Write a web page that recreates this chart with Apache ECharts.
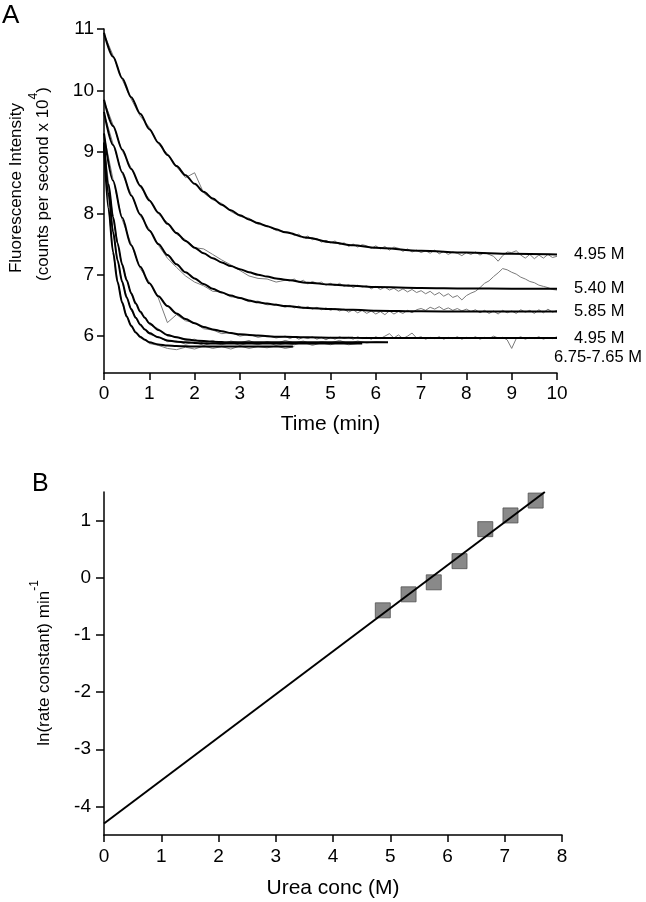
<!DOCTYPE html>
<html><head><meta charset="utf-8">
<script src="https://cdn.jsdelivr.net/npm/echarts@6/dist/echarts.min.js"></script>
<style>html,body{margin:0;padding:0;background:#fff}#c{width:646px;height:902px}</style>
</head><body><div id="c"></div>
<script>
// ---------- Panel A data ----------
const timeTicks = [0,1,2,3,4,5,6,7,8,9,10];
const intensityTicks = [6,7,8,9,10,11];
const traceLabels = ['4.95 M','5.40 M','5.85 M','4.95 M'];
const groupLabel = '6.75-7.65 M';

// raw (noisy) traces, slow ones
const tGray = [0,0.2,0.4,0.6,0.8,1,1.2,1.4,1.6,1.8,2,2.2,2.4,2.6,2.8,3,3.2,3.4,3.6,3.8,4,
4.1,4.2,4.3,4.4,4.5,4.6,4.7,4.8,4.9,5,
5.1,5.2,5.3,5.4,5.5,5.6,5.7,5.8,5.9,6,
6.1,6.2,6.3,6.4,6.5,6.6,6.7,6.8,6.9,7,
7.1,7.2,7.3,7.4,7.5,7.6,7.7,7.8,7.9,8,
8.1,8.2,8.3,8.4,8.5,8.6,8.7,8.8,8.9,9,
9.1,9.2,9.3,9.4,9.5,9.6,9.7,9.8,9.9,10];
const gray1 = [10.92,10.57,10.18,9.86,9.58,9.40,9.13,8.97,8.76,8.58,8.66,8.33,8.22,8.16,8.03,7.95,7.92,7.82,7.80,7.72,7.70,
7.69,7.64,7.66,7.60,7.63,7.57,7.59,7.53,7.56,7.52,
7.55,7.49,7.52,7.46,7.50,7.45,7.49,7.47,7.43,7.47,
7.42,7.46,7.40,7.45,7.43,7.38,7.42,7.37,7.40,7.36,
7.39,7.35,7.40,7.34,7.38,7.33,7.37,7.35,7.31,7.36,
7.33,7.37,7.32,7.36,7.33,7.30,7.22,7.31,7.37,7.36,
7.39,7.32,7.27,7.33,7.26,7.32,7.27,7.33,7.28,7.30];
const gray2 = [9.83,9.44,9.02,8.74,8.43,8.23,7.99,7.85,7.66,7.57,7.44,7.42,7.33,7.24,7.16,7.07,6.98,6.94,6.93,6.88,6.91,
6.90,6.93,6.88,6.91,6.85,6.89,6.86,6.88,6.83,6.86,
6.82,6.86,6.81,6.84,6.79,6.83,6.80,6.82,6.77,6.81,
6.76,6.80,6.75,6.78,6.73,6.77,6.72,6.76,6.71,6.74,
6.69,6.73,6.67,6.71,6.65,6.69,6.63,6.66,6.59,6.66,
6.70,6.73,6.79,6.86,6.90,6.97,7.03,7.10,7.08,7.04,
7.01,6.96,6.93,6.89,6.87,6.83,6.81,6.79,6.76,6.75];
const gray3 = [9.63,9.13,8.65,8.31,7.96,7.74,7.48,7.27,7.12,6.98,6.88,6.82,6.73,6.72,6.64,6.63,6.56,6.57,6.51,6.52,6.47,
6.50,6.46,6.49,6.45,6.48,6.44,6.47,6.43,6.46,6.42,
6.45,6.41,6.44,6.39,6.43,6.38,6.42,6.37,6.41,6.36,
6.40,6.35,6.41,6.36,6.40,6.37,6.42,6.38,6.43,6.45,
6.42,6.47,6.44,6.48,6.43,6.46,6.42,6.45,6.41,6.44,
6.40,6.43,6.38,6.42,6.37,6.41,6.36,6.42,6.38,6.41,
6.37,6.43,6.39,6.42,6.37,6.43,6.38,6.44,6.39,6.42];
const gray4 = [9.27,8.55,7.90,7.50,7.10,6.88,6.62,6.22,6.35,6.25,6.22,6.12,6.10,6.04,6.06,6.00,6.03,5.98,6.01,5.97,6.00,
5.96,5.99,5.95,5.98,5.96,5.99,5.95,5.98,5.94,5.98,
5.95,5.99,5.96,5.98,5.95,5.99,5.96,5.98,5.95,5.99,
5.96,6.00,6.04,5.97,6.02,5.96,6.00,6.05,5.97,5.99,
5.95,5.98,5.96,5.99,5.95,5.98,5.96,5.99,5.95,5.98,
5.96,5.99,5.95,5.98,5.96,6.00,5.97,5.98,5.94,5.80,
5.96,5.99,5.95,5.98,5.96,5.99,5.95,5.98,5.96,5.99];

// raw traces, fast ones (6.75, 7.20, 7.65 M)
const tFastGray = [0,0.1,0.2,0.3,0.4,0.5,0.6,0.7,0.8,0.9,1,1.2,1.4,1.6,1.8,2,2.2,2.4,2.6,2.8,3,3.2,3.4,3.6,3.8,4,4.2,4.4,4.6,4.8,5,5.2,5.4,5.6,5.8,6,6.2];
const gray5 = [9.13,8.49,7.92,7.53,7.15,6.93,6.68,6.55,6.38,6.32,6.19,
6.12,6.00,5.99,5.93,5.95,5.88,5.93,5.87,5.92,5.89,5.93,5.87,5.91,5.88,5.93,5.89,5.92,5.87,5.91,5.89,5.93,5.88,5.92,5.89,5.91,5.90];
const gray6 = [9.13,8.35,7.68,7.25,6.87,6.65,6.42,6.31,6.17,6.12,6.03,
5.99,5.91,5.92,5.87,5.90,5.85,5.89,5.86,5.90,5.85,5.89,5.86,5.90,5.85,5.88,5.86,5.90,5.85,5.89,5.86,5.90,5.86,5.88];
const gray7 = [9.08,8.10,7.35,6.90,6.53,6.34,6.15,6.08,5.97,5.95,5.88,
5.85,5.80,5.78,5.82,5.79,5.84,5.80,5.83,5.79,5.84,5.80,5.83,5.81,5.84,5.80,5.83];

// fitted curves
const tFitSlow = [0,0.2,0.4,0.6,0.8,1,1.2,1.4,1.6,1.8,2,2.2,2.4,2.6,2.8,3,3.2,3.4,3.6,3.8,4,4.5,5,5.5,6,7,8,9,10];
const fit1 = [10.94,10.55,10.20,9.89,9.62,9.37,9.15,8.95,8.77,8.62,8.48,8.35,8.24,8.14,8.05,7.97,7.90,7.84,7.79,7.74,7.69,7.60,7.53,7.48,7.44,7.39,7.36,7.34,7.33];
const fit2 = [9.85,9.42,9.04,8.72,8.45,8.21,8.01,7.83,7.68,7.55,7.44,7.35,7.27,7.20,7.14,7.09,7.04,7.00,6.97,6.94,6.92,6.87,6.84,6.82,6.80,6.785,6.777,6.772,6.77];
const fit3 = [9.65,9.11,8.67,8.29,7.98,7.72,7.50,7.32,7.17,7.04,6.94,6.85,6.77,6.71,6.66,6.62,6.58,6.55,6.53,6.51,6.49,6.46,6.44,6.43,6.415,6.405,6.40,6.40,6.40];
const fit4 = [9.30,8.53,7.93,7.48,7.13,6.86,6.65,6.49,6.37,6.28,6.21,6.15,6.11,6.08,6.05,6.03,6.02,6.01,6.00,5.99,5.99,5.98,5.975,5.972,5.97,5.97,5.97,5.97,5.97];
const tFit5 = [0,0.1,0.2,0.3,0.4,0.5,0.6,0.7,0.8,0.9,1,1.2,1.4,1.6,1.8,2,2.4,2.8,6.27];
const tFit6 = [0,0.1,0.2,0.3,0.4,0.5,0.6,0.7,0.8,0.9,1,1.2,1.4,1.6,1.8,2,2.4,2.8,5.7];
const tFit7 = [0,0.1,0.2,0.3,0.4,0.5,0.6,0.7,0.8,0.9,1,1.2,1.4,1.6,1.8,2,2.4,2.8,4.17];
const fit5 = [9.15,8.47,7.94,7.51,7.17,6.91,6.70,6.53,6.40,6.30,6.21,6.10,6.02,5.98,5.95,5.93,5.91,5.90,5.90];
const fit6 = [9.15,8.32,7.70,7.23,6.89,6.63,6.44,6.30,6.19,6.11,6.05,5.98,5.93,5.91,5.90,5.89,5.88,5.88,5.88];
const fit7 = [9.10,8.07,7.37,6.88,6.55,6.32,6.17,6.06,5.99,5.94,5.90,5.865,5.846,5.838,5.834,5.832,5.83,5.83,5.83];

// ---------- Panel B data ----------
const ureaTicks = [0,1,2,3,4,5,6,7,8];
const lnTicks = [-4,-3,-2,-1,0,1];
const ureaConc = [4.87,5.32,5.76,6.21,6.66,7.10,7.54];
const lnRate = [-0.57,-0.29,-0.08,0.29,0.85,1.09,1.35];
const fitLineX = [0,7.7];
const fitLineY = [-4.3,1.5];

// ---------- build ----------
const FONT = '"Liberation Sans", Arial, Helvetica, sans-serif';
const zip = (t, v) => v.map((y, i) => [t[i], y]);
const axisLineStyle = {color:'#000', width:1.5};
const TICK_FS = 19, NAME_FS = 21, TAG_FS = 16.5;

function grayLine(t, v){
  return {type:'line', xAxisIndex:0, yAxisIndex:0, data:zip(t,v), showSymbol:false, symbol:'none',
    lineStyle:{color:'#7a7a7a', width:1}, z:2, silent:true};
}
function fitLine(t, v, label){
  const s = {type:'line', xAxisIndex:0, yAxisIndex:0, data:zip(t,v), showSymbol:false, symbol:'none',
    smooth:0.3, smoothMonotone:'x', lineStyle:{color:'#000', width:2}, z:3, silent:true};
  if (label) s.endLabel = {show:true, formatter:label, distance:17, color:'#000', fontSize:TAG_FS, fontFamily:FONT};
  return s;
}

const chart = echarts.init(document.getElementById('c'), null, {renderer:'canvas'});
chart.setOption({
  animation:false,
  backgroundColor:'#fff',
  grid:[
    {left:104, top:29, width:453, height:344},
    {left:104, top:492, width:458, height:343}
  ],
  xAxis:[
    {type:'value', gridIndex:0, min:0, max:10, interval:1,
      axisLine:{onZero:false, lineStyle:axisLineStyle}, axisTick:{length:7, lineStyle:axisLineStyle},
      axisLabel:{color:'#000', fontSize:TICK_FS, fontFamily:FONT, margin:11, customValues:timeTicks},
      splitLine:{show:false},
      name:'Time (min)', nameLocation:'middle', nameGap:41,
      nameTextStyle:{color:'#000', fontSize:NAME_FS, fontFamily:FONT}},
    {type:'value', gridIndex:1, min:0, max:8, interval:1,
      axisLine:{onZero:false, lineStyle:axisLineStyle}, axisTick:{length:7, lineStyle:axisLineStyle},
      axisLabel:{color:'#000', fontSize:TICK_FS, fontFamily:FONT, margin:12, customValues:ureaTicks},
      splitLine:{show:false},
      name:'Urea conc (M)', nameLocation:'middle', nameGap:43,
      nameTextStyle:{color:'#000', fontSize:NAME_FS, fontFamily:FONT}}
  ],
  yAxis:[
    {type:'value', gridIndex:0, min:5.4, max:11,
      axisLine:{show:true, onZero:false, lineStyle:axisLineStyle},
      axisTick:{show:true, length:7, lineStyle:axisLineStyle, customValues:intensityTicks},
      axisLabel:{color:'#000', fontSize:TICK_FS, fontFamily:FONT, margin:10, customValues:intensityTicks},
      splitLine:{show:false}},
    {type:'value', gridIndex:1, min:-4.5, max:1.5,
      axisLine:{show:true, onZero:false, lineStyle:axisLineStyle},
      axisTick:{show:true, length:8, lineStyle:axisLineStyle, customValues:lnTicks},
      axisLabel:{color:'#000', fontSize:TICK_FS, fontFamily:FONT, margin:13, customValues:lnTicks},
      splitLine:{show:false}}
  ],
  graphic:[
    {type:'text', left:2, top:3, style:{text:'A', fontSize:26, fontFamily:FONT, fill:'#000'}},
    {type:'text', left:32, top:472, style:{text:'B', fontSize:25, fontFamily:FONT, fill:'#000'}},
    {type:'text', x:16.5, y:188, rotation:Math.PI/2,
      style:{text:'Fluorescence Intensity', fontSize:17, fontFamily:FONT, fill:'#000', align:'center', verticalAlign:'middle'}},
    {type:'text', x:43, y:184, rotation:Math.PI/2,
      style:{text:'(counts per second x 10{sup|4})', fontSize:17, lineHeight:30, fontFamily:FONT, fill:'#000',
        align:'center', verticalAlign:'middle',
        rich:{sup:{fontSize:12, lineHeight:12, verticalAlign:'top', fontFamily:FONT, fill:'#000'}}}},
    {type:'text', x:44, y:663, rotation:Math.PI/2,
      style:{text:'ln(rate constant) min{sup|-1}', fontSize:17, lineHeight:30, fontFamily:FONT, fill:'#000',
        align:'center', verticalAlign:'middle',
        rich:{sup:{fontSize:12, lineHeight:12, verticalAlign:'top', fontFamily:FONT, fill:'#000'}}}},
    {type:'text', left:554, top:349, style:{text:groupLabel, fontSize:TAG_FS, fontFamily:FONT, fill:'#000'}}
  ],
  series:[
    grayLine(tGray, gray1), grayLine(tGray, gray2), grayLine(tGray, gray3), grayLine(tGray, gray4),
    grayLine(tFastGray, gray5), grayLine(tFastGray, gray6), grayLine(tFastGray, gray7),
    fitLine(tFitSlow, fit1, traceLabels[0]), fitLine(tFitSlow, fit2, traceLabels[1]),
    fitLine(tFitSlow, fit3, traceLabels[2]), fitLine(tFitSlow, fit4, traceLabels[3]),
    fitLine(tFit5, fit5), fitLine(tFit6, fit6), fitLine(tFit7, fit7),
    {type:'scatter', xAxisIndex:1, yAxisIndex:1, data:zip(ureaConc, lnRate), symbol:'rect', symbolSize:15,
      itemStyle:{color:'#6b6b6b', borderColor:'#505050', borderWidth:1}, z:2, silent:true},
    {type:'line', xAxisIndex:1, yAxisIndex:1, data:zip(fitLineX, fitLineY), showSymbol:false, symbol:'none',
      lineStyle:{color:'#000', width:2}, z:3, silent:true}
  ]
});
</script></body></html>
